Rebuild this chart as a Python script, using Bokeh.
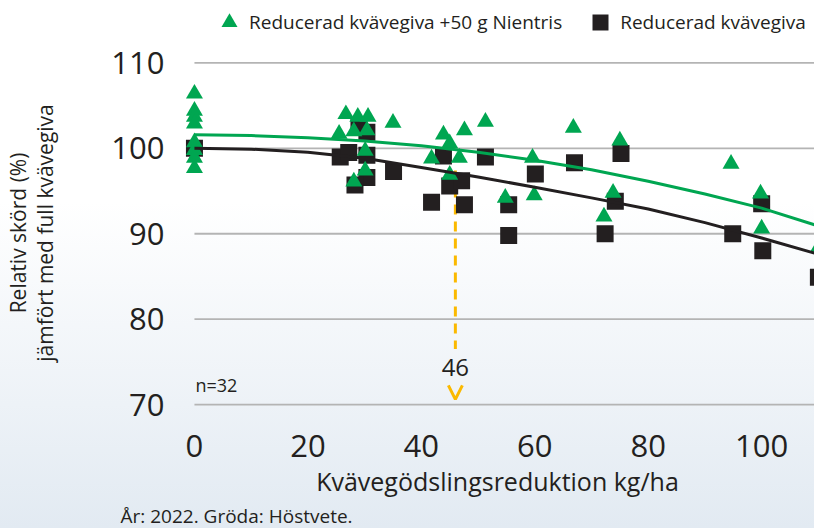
import numpy as np
from bokeh.plotting import figure
from bokeh.layouts import column
from bokeh.models import (Range1d, FixedTicker, Legend, LegendItem, Label, Title,
                          Arrow, OpenHead, ColumnDataSource)
from bokeh.embed import file_html
from bokeh.resources import INLINE

FONT = "Open Sans"
GREEN = "#00a651"
BLACK = "#231f20"
YELLOW = "#fbb900"
GRID = "#b4b4b4"

# ---------------- data ----------------
nientris_x = [0, 0, 0, 0, 0, 0, 0, 0,
              25.5, 26.7, 28.8, 30.6, 28.1, 30.4, 30.1, 30.1, 28.1, 35.0,
              43.9, 45.0, 41.8, 46.7, 45.0, 47.6, 51.3, 54.8, 59.6, 59.9,
              66.8, 75.0, 73.8, 72.2,
              94.6, 99.8, 100.0, 110.0]
nientris_y = [106.4, 104.4, 103.7, 102.9, 100.7, 99.8, 98.9, 97.7,
              101.7, 104.0, 103.7, 103.7, 102.0, 102.1, 99.7, 97.4, 96.1, 103.0,
              101.6, 100.6, 98.8, 98.9, 96.9, 102.1, 103.1, 94.2, 98.9, 94.5,
              102.4, 100.9, 94.8, 92.0,
              98.2, 94.7, 90.6, 88.4]

reduced_x = [0,
             25.7, 27.2, 30.4, 29.0, 30.4, 30.4, 28.3, 35.1,
             43.9, 45.0, 47.1, 41.8, 47.6, 51.3, 55.4, 55.4, 60.1, 67.0,
             75.2, 74.2, 72.4, 94.9, 100.0, 100.2, 110.0]
reduced_y = [100.0,
             99.0, 99.5, 101.9, 102.6, 99.2, 96.6, 95.7, 97.3,
             99.1, 95.6, 96.2, 93.7, 93.4, 99.0, 93.4, 89.8, 97.0, 98.3,
             99.4, 93.8, 90.0, 90.0, 93.5, 88.0, 84.9]

trend_x = [0, 10, 20, 30, 40, 50, 60, 70, 80, 90, 100, 110]
trend_nientris = [101.6, 101.5, 101.25, 100.85, 100.3, 99.55, 98.6, 97.5,
                  96.15, 94.65, 93.0, 90.9]
trend_reduced = [100.0, 99.9, 99.55, 98.85, 97.75, 96.65, 95.45, 94.2,
                 92.9, 91.3, 89.5, 87.6]

x_ticks = [0, 20, 40, 60, 80, 100]
y_ticks = [70, 80, 90, 100, 110]

threshold = 46
threshold_top = 97.4
threshold_bottom = 76.5
n_text = "n=32"

series_names = ["Reducerad kvävegiva +50 g Nientris", "Reducerad kvävegiva"]
x_title = "Kvävegödslingsreduktion kg/ha"
y_title = "Relativ skörd (%)\njämfört med full kvävegiva"
footnote = "År: 2022. Gröda: Höstvete."

# ---------------- legend strip (top) ----------------
leg = figure(width=814, height=48, x_range=Range1d(0, 1), y_range=Range1d(0, 1),
             output_backend="svg", toolbar_location=None,
             x_axis_location=None, y_axis_location=None, min_border=0)
leg.outline_line_color = None
leg.grid.visible = False
leg.background_fill_alpha = 0
leg.border_fill_alpha = 0
# legend key renderers (their data lie outside this strip's ranges, only keys show)
leg_tri = leg.scatter(nientris_x, nientris_y, marker="triangle", size=17,
                      fill_color=GREEN, line_color=None)
leg_sq = leg.scatter(reduced_x, reduced_y, marker="square", size=17,
                     fill_color=BLACK, line_color=None)
legend = Legend(items=[LegendItem(label=series_names[0], renderers=[leg_tri]),
                       LegendItem(label=series_names[1], renderers=[leg_sq])],
                orientation="horizontal", location=(29, 6),
                glyph_width=40, glyph_height=40, label_standoff=0, spacing=18,
                padding=0, margin=0, background_fill_alpha=0, border_line_color=None,
                label_text_font=FONT, label_text_font_size="19px",
                label_text_color=BLACK)
leg.add_layout(legend)

# ---------------- main chart ----------------
X0, X1 = -2.46, 109.315
Y0, Y1 = 68.482, 111.693

p = figure(width=814, height=480, x_range=Range1d(X0, X1), y_range=Range1d(Y0, Y1),
           output_backend="svg", toolbar_location=None,
           min_border_left=178, min_border_right=0, min_border_top=0,
           min_border_bottom=110)
p.outline_line_color = None
p.background_fill_alpha = 0
p.border_fill_alpha = 0
p.styles = {"background": "linear-gradient(to bottom, #ffffff 0%, #ffffff 32%, #e2eaf2 100%)"}
p.xgrid.visible = False
p.ygrid.visible = False

xa = p.xaxis[0]
xa.ticker = FixedTicker(ticks=x_ticks)
xa.axis_line_color = None
xa.major_tick_line_color = None
xa.minor_tick_line_color = None
xa.major_tick_out = 0
xa.major_tick_in = 0
xa.major_label_text_font = FONT
xa.major_label_text_font_size = "31px"
xa.major_label_text_color = BLACK
xa.major_label_standoff = 17
xa.axis_label = x_title
xa.axis_label_text_font = FONT
xa.axis_label_text_font_style = "normal"
xa.axis_label_text_font_size = "25px"
xa.axis_label_text_color = BLACK
xa.axis_label_standoff = 4

ya = p.yaxis[0]
ya.ticker = FixedTicker(ticks=y_ticks)
ya.axis_line_color = None
ya.major_tick_line_color = None
ya.minor_tick_line_color = None
ya.major_tick_out = 0
ya.major_tick_in = 0
ya.major_label_text_font = FONT
ya.major_label_text_font_size = "31px"
ya.major_label_text_color = BLACK
ya.major_label_standoff = 16
ya.axis_label = y_title
ya.axis_label_text_font = FONT
ya.axis_label_text_font_style = "normal"
ya.axis_label_text_font_size = "21px"
ya.axis_label_text_color = BLACK
ya.axis_label_text_align = "center"
ya.axis_label_text_line_height = 0.98
ya.axis_label_standoff = 49

p.add_layout(Title(text=footnote, align="left", offset=-60, text_font=FONT,
                   text_font_size="19px", text_font_style="normal",
                   text_color=BLACK, standoff=0), "below")

# grid lines starting at x = 0
grid_src = ColumnDataSource(dict(y=y_ticks, x0=[0] * len(y_ticks), x1=[X1] * len(y_ticks)))
p.segment(x0="x0", y0="y", x1="x1", y1="y", source=grid_src, line_color=GRID, line_width=1.8)

# threshold dashed line
p.segment(x0=[threshold], y0=[threshold_top], x1=[threshold], y1=[threshold_bottom],
          line_color=YELLOW, line_width=3, line_dash="10 7")

sq = p.scatter(reduced_x, reduced_y, marker="square", size=17,
               fill_color=BLACK, line_color=None)
tri = p.scatter(nientris_x, nientris_y, marker="triangle", size=17,
                fill_color=GREEN, line_color=None)

p.line(trend_x, trend_nientris, line_color=GREEN, line_width=3)
p.line(trend_x, trend_reduced, line_color=BLACK, line_width=3)

p.add_layout(Arrow(end=OpenHead(size=14, line_color=YELLOW, line_width=3),
                   x_start=threshold, y_start=71.6, x_end=threshold, y_end=70.6,
                   line_alpha=0))

p.add_layout(Label(x=threshold, y=74.32, text=str(threshold), text_align="center",
                   text_baseline="middle", text_font=FONT, text_font_size="24px",
                   text_color=BLACK))
p.add_layout(Label(x=0.18, y=72.34, text=n_text, text_align="left",
                   text_baseline="middle", text_font=FONT, text_font_size="18px",
                   text_color=BLACK))

layout = column(leg, p, spacing=0)
open("out.html", "w").write(file_html(layout, INLINE))
